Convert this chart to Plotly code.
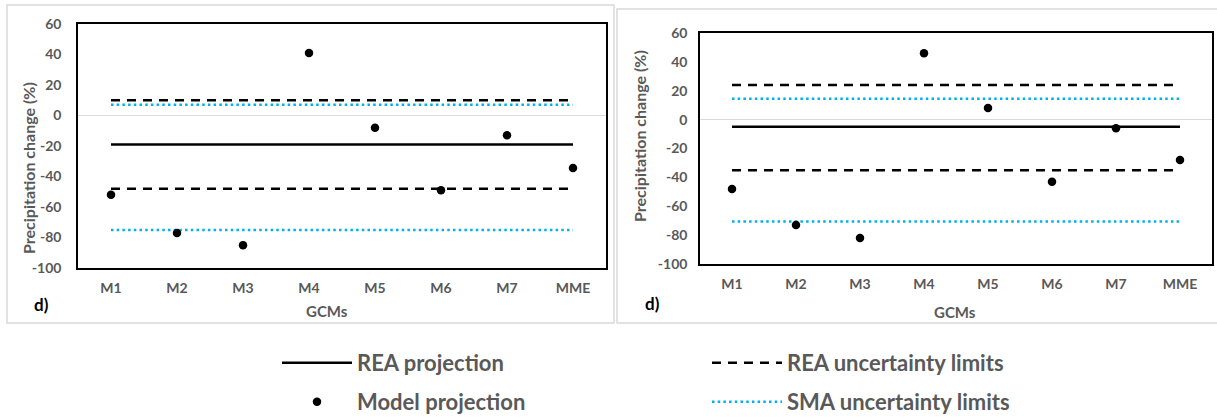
import plotly.graph_objects as go

W, H = 1217, 418

categories = ["M1", "M2", "M3", "M4", "M5", "M6", "M7", "MME"]
tick_vals = [60, 40, 20, 0, -20, -40, -60, -80, -100]
tick_text = ["60", "40", "20", "0", "-20", "-40", "-60", "-80", "-100"]

# Left panel (d)
left_model = [-52, -77, -85, 41, -8, -49, -13, -34.5]
left_rea = -19
left_rea_upper = 10
left_rea_lower = -48
left_sma_upper = 7
left_sma_lower = -75

# Right panel (d)
right_model = [-48, -73, -82, 46, 8, -43, -6, -28]
right_rea = -5
right_rea_upper = 24
right_rea_lower = -35
right_sma_upper = 14.5
right_sma_lower = -70.5

GREY = "#595959"
BLUE = "#00B0F0"
FONT = "Lato"

fig = go.Figure()


def add_panel(xa, ya, model, rea, rea_up, rea_lo, sma_up, sma_lo, show):
    n = len(categories)
    fig.add_trace(go.Scatter(x=categories, y=[sma_up] * n, mode="lines",
                             line=dict(color=BLUE, width=2.5, dash="2.5px,3.2px"),
                             xaxis=xa, yaxis=ya, showlegend=show, legend="legend4",
                             name="SMA uncertainty limits"))
    fig.add_trace(go.Scatter(x=categories, y=[sma_lo] * n, mode="lines",
                             line=dict(color=BLUE, width=2.5, dash="2.5px,3.2px"),
                             xaxis=xa, yaxis=ya, showlegend=False))
    fig.add_trace(go.Scatter(x=categories, y=[rea_up] * n, mode="lines",
                             line=dict(color="black", width=2.5, dash="9px,7px"),
                             xaxis=xa, yaxis=ya, showlegend=show, legend="legend2",
                             name="REA uncertainty limits"))
    fig.add_trace(go.Scatter(x=categories, y=[rea_lo] * n, mode="lines",
                             line=dict(color="black", width=2.5, dash="9px,7px"),
                             xaxis=xa, yaxis=ya, showlegend=False))
    fig.add_trace(go.Scatter(x=categories, y=[rea] * n, mode="lines",
                             line=dict(color="black", width=2.5),
                             xaxis=xa, yaxis=ya, showlegend=show, legend="legend",
                             name="REA projection"))
    fig.add_trace(go.Scatter(x=categories, y=model, mode="markers",
                             marker=dict(color="black", size=8.5),
                             xaxis=xa, yaxis=ya, showlegend=show, legend="legend3",
                             name="Model projection"))


add_panel("x", "y", left_model, left_rea, left_rea_upper, left_rea_lower,
          left_sma_upper, left_sma_lower, True)
add_panel("x2", "y2", right_model, right_rea, right_rea_upper, right_rea_lower,
          right_sma_upper, right_sma_lower, False)


def px(x):
    return x / W


def py(y):
    return 1 - y / H


xcommon = dict(type="category", range=[-0.5, 7.5], showgrid=False, zeroline=False,
               showline=True, linecolor="black", linewidth=1.5, mirror=True,
               automargin=False,
               ticks="", tickfont=dict(family=FONT, size=14, color=GREY, weight="bold"),
               ticklabelstandoff=6)
ycommon = dict(range=[-100, 60], tickvals=tick_vals, ticktext=tick_text, showgrid=False,
               zeroline=True, zerolinecolor="#d9d9d9", zerolinewidth=1,
               showline=True, linecolor="black", linewidth=1.5, mirror=True,
               automargin=False,
               ticks="", tickfont=dict(family=FONT, size=14, color=GREY, weight="bold"))

legend_common = dict(orientation="h", itemwidth=70, bgcolor="rgba(0,0,0,0)",
                     font=dict(family=FONT, size=22, color=GREY, weight="bold"),
                     xanchor="left", yanchor="middle", itemclick=False)

fig.update_layout(
    width=W, height=H, margin=dict(l=0, r=0, t=0, b=0, autoexpand=False),
    paper_bgcolor="white", plot_bgcolor="white",
    xaxis=dict(domain=[px(78), px(606)], anchor="y", **xcommon),
    yaxis=dict(domain=[py(268), py(24)], anchor="x", ticklabelstandoff=12, **ycommon),
    xaxis2=dict(domain=[px(700), px(1212)], anchor="y2", **xcommon),
    yaxis2=dict(domain=[py(264), py(33)], anchor="x2", ticklabelstandoff=8, **ycommon),
    legend=dict(x=px(277), y=py(363), **legend_common),
    legend2=dict(x=px(707), y=py(363), **legend_common),
    legend3=dict(x=px(277), y=py(402), **legend_common),
    legend4=dict(x=px(707), y=py(402), **legend_common),
    showlegend=True,
)

# panel frames
fig.add_shape(type="rect", xref="paper", yref="paper", x0=px(7), x1=px(614),
              y0=py(323), y1=py(5), line=dict(color="#d9d9d9", width=1.5))
fig.add_shape(type="rect", xref="paper", yref="paper", x0=px(617), x1=px(1222),
              y0=py(323), y1=py(9), line=dict(color="#d9d9d9", width=1.5))

ann = []
ann.append(dict(text="<b>Precipitation change (%)</b>", x=px(28), y=py(168), textangle=-90,
                font=dict(family=FONT, size=16, color=GREY)))
ann.append(dict(text="<b>Precipitation change (%)</b>", x=px(640), y=py(136), textangle=-90,
                font=dict(family=FONT, size=16, color=GREY)))
ann.append(dict(text="<b>GCMs</b>", x=px(327), y=py(311),
                font=dict(family=FONT, size=15, color=GREY)))
ann.append(dict(text="<b>GCMs</b>", x=px(955), y=py(312),
                font=dict(family=FONT, size=15, color=GREY)))
ann.append(dict(text="<b>d)</b>", x=px(41), y=py(304),
                font=dict(family=FONT, size=17, color="black")))
ann.append(dict(text="<b>d)</b>", x=px(652), y=py(303),
                font=dict(family=FONT, size=17, color="black")))
for a in ann:
    a.update(xref="paper", yref="paper", showarrow=False, xanchor="center", yanchor="middle")
fig.update_layout(annotations=ann)

fig.write_html("out.html", config={"displayModeBar": False},
               post_script="document.body.style.margin='0';")
